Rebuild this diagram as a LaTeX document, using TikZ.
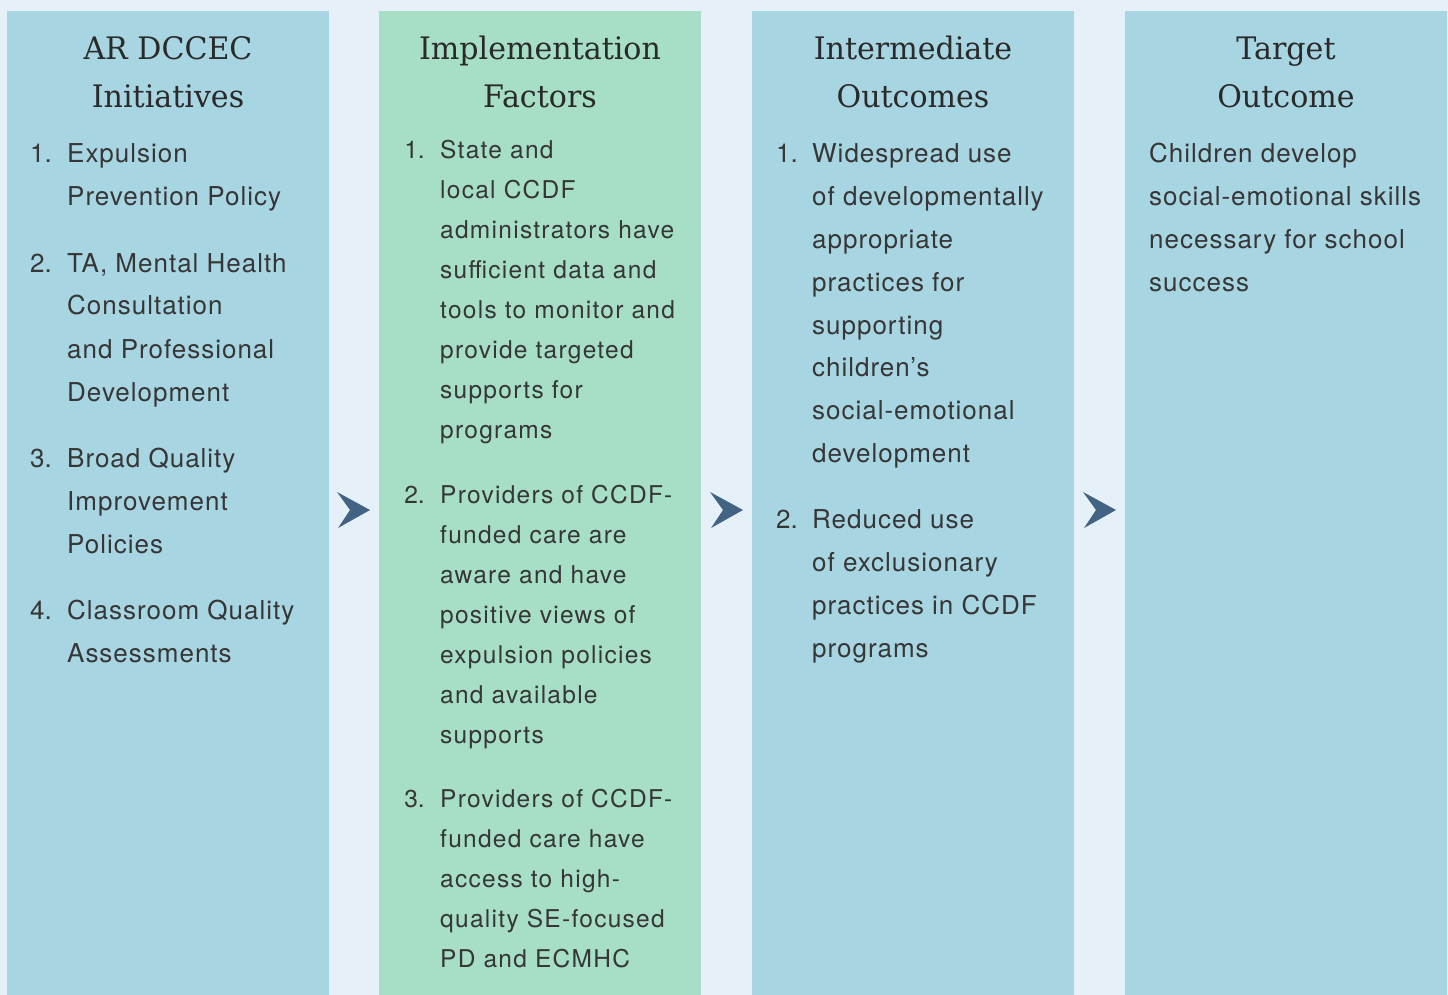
\documentclass[tikz,border=0pt]{standalone}
\usepackage{fontspec}
\setmainfont{TeX Gyre Heros}[LetterSpace=3.8]
\newfontfamily\widebody{TeX Gyre Heros}[LetterSpace=5.2]
\newfontfamily\plainbody{TeX Gyre Heros}
\newfontfamily\headfont{DejaVu Serif}[FakeStretch=0.97]
\definecolor{pagebg}{HTML}{E6F0F9}
\definecolor{colblue}{HTML}{A8D5E2}
\definecolor{colgreen}{HTML}{A6DEC6}
\definecolor{chevron}{HTML}{436382}
\definecolor{ink}{HTML}{2A2A2A}
\definecolor{bodyink}{HTML}{363636}
\newcommand\headtext[1]{\parbox[t]{310pt}{\centering\fontsize{31}{48}\selectfont\headfont #1}}
\newcommand\listpar[3]{\parbox[t]{300pt}{\raggedright\fontsize{#1}{#2}\selectfont #3}}
\begin{document}
\begin{tikzpicture}[x=1pt,y=-1pt,
  colbox/.style={fill=#1},
  head/.style={anchor=base, inner sep=0, text=ink},
  num/.style={anchor=base east, inner sep=0, text=bodyink, font=\plainbody\fontsize{#1}{#1}\selectfont},
  entry/.style={anchor=base west, inner sep=0, text=bodyink},
  chev/.style={fill=chevron}]
% page
\fill[pagebg] (0,0) rectangle (1448,995);
\useasboundingbox (0,0) rectangle (1448,995);
% the four columns
\fill[colbox=colblue]  (7,11)    rectangle (329,995);
\fill[colbox=colgreen] (379,11)  rectangle (701,995);
\fill[colbox=colblue]  (752,11)  rectangle (1074,995);
\fill[colbox=colblue]  (1125,11) rectangle (1447,995);
% chevrons between columns
\foreach \tx in {370,743,1116}{
  \fill[chev] (\tx,510) -- ++(-32,18) -- ++(12,-18) -- ++(-13,-18) -- cycle;
}
% headings
\node[head] (h1) at (168,60)  {\headtext{AR DCCEC\\Initiatives}};
\node[head] (h2) at (540,60)  {\headtext{Implementation\\Factors}};
\node[head] (h3) at (913,60)  {\headtext{Intermediate\\Outcomes}};
\node[head] (h4) at (1286,60) {\headtext{Target\\Outcome}};
% column 1
\node[num=26] (a1n) at (52,163) {1.};
\node[entry] (a1) at (67,163) {\listpar{26}{43}{Expulsion\\Prevention Policy}};
\node[num=26] (a2n) at (52,272) {2.};
\node[entry] (a2) at (67,272) {\listpar{26}{43}{TA, Mental Health\\Consultation\\and Professional\\Development}};
\node[num=26] (a3n) at (52,467) {3.};
\node[entry] (a3) at (67,467) {\listpar{26}{43}{Broad Quality\\Improvement\\Policies}};
\node[num=26] (a4n) at (52,619) {4.};
\node[entry] (a4) at (67,619) {\listpar{26}{43}{Classroom Quality\\Assessments}};
% column 2
\node[num=24.5] (b1n) at (425,159) {1.};
\node[entry] (b1) at (440,159) {\listpar{24.5}{40}{\widebody State and\\local CCDF\\administrators have\\sufficient data and\\tools to monitor and\\provide targeted\\supports for\\programs}};
\node[num=24.5] (b2n) at (425,503) {2.};
\node[entry] (b2) at (440,503) {\listpar{24.5}{40}{\widebody Providers of CCDF-\\funded care are\\aware and have\\positive views of\\expulsion policies\\and available\\supports}};
\node[num=24.5] (b3n) at (425,807) {3.};
\node[entry] (b3) at (440,807) {\listpar{24.5}{40}{\widebody Providers of CCDF-\\funded care have\\access to high-\\quality SE-focused\\PD and ECMHC}};
% column 3
\node[num=26] (c1n) at (798,163) {1.};
\node[entry] (c1) at (812,163) {\listpar{26}{42.8}{Widespread use\\of developmentally\\appropriate\\practices for\\supporting\\children’s\\social-emotional\\development}};
\node[num=26] (c2n) at (798,528) {2.};
\node[entry] (c2) at (812,528) {\listpar{26}{43}{Reduced use\\of exclusionary\\practices in CCDF\\programs}};
% column 4
\node[entry] (d1) at (1149,163) {\listpar{26}{43}{Children develop\\social-emotional skills\\necessary for school\\success}};
\end{tikzpicture}
\end{document}
